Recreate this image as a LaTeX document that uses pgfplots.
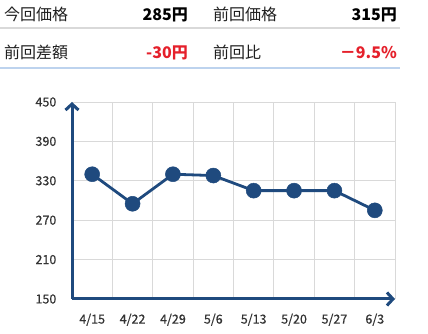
\documentclass[border=0pt]{standalone}
\usepackage{fontspec}
\setmainfont{Noto Sans CJK JP}
\newfontfamily\tickfont[FakeBold=0.5]{Noto Sans CJK JP}
\usepackage{pgfplots}
\pgfplotsset{compat=1.18}
\usetikzlibrary{arrows.meta}
\definecolor{navy}{HTML}{1F4A7E}
\definecolor{gridc}{HTML}{D9D9D9}
\definecolor{sepc}{HTML}{BDD3EE}
\definecolor{redc}{HTML}{E5202B}
\definecolor{txt}{HTML}{333333}
\begin{document}
\begin{tikzpicture}[x=1pt,y=1pt]
\useasboundingbox[fill=white] (0,0) rectangle (428,334);
% summary table
\draw[gridc, line width=1.2pt] (0,306) -- (400,306);
\draw[sepc, line width=1.2pt] (0,266) -- (400,266);
\tikzset{lab/.style={anchor=base west, font=\fontsize{16}{18}\selectfont, text=black!88, inner sep=0pt},
         val/.style={anchor=base east, font=\fontsize{16}{18}\selectfont\bfseries, inner sep=0pt}}
\node[lab] at (4,313) {今回価格};
\node[val, text=black] at (188,313) {285円};
\node[lab] at (213,313) {前回価格};
\node[val, text=black] at (397,313) {315円};
\node[lab] at (4,275) {前回差額};
\node[val, text=redc] at (188,275) {-30円};
\node[lab] at (213,275) {前回比};
\node[val, text=redc] at (397,275) {－9.5\%};
\begin{axis}[
  at={(72pt,35pt)}, anchor=south west,
  scale only axis, width=323pt, height=197pt,
  xmin=-0.5, xmax=7.5, ymin=150, ymax=450,
  xtick={0,...,7},
  xticklabels={4/15,4/22,4/29,5/6,5/13,5/20,5/27,6/3},
  minor xtick={-0.5,0.5,...,7.5},
  xminorgrids, ymajorgrids,
  ytick={150,210,270,330,390,450},
  grid style={gridc, line width=0.8pt},
  minor grid style={gridc, line width=0.8pt},
  axis lines=left,
  every outer x axis line/.append style={draw=navy, line width=3pt, -{Straight Barb[length=6pt,width=13pt,line width=3pt]}},
  every outer y axis line/.append style={draw=navy, line width=3pt, -{Straight Barb[length=6pt,width=13pt,line width=3pt]}},
  tick style={draw=none},
  ticklabel style={font=\tickfont\fontsize{12.5}{14}\selectfont, text=txt},
  /pgf/number format/assume math mode=true,
  xticklabel style={yshift=-9pt},
  yticklabel style={xshift=-10pt},
  clip=false,
]
\addplot[navy, line width=2.8pt, mark=*, mark size=7.5pt,
  mark options={fill=navy, line width=0.5pt}]
  coordinates {(0,340)(1,295)(2,340)(3,338)(4,315)(5,315)(6,315)(7,285)};
\end{axis}
\end{tikzpicture}
\end{document}
